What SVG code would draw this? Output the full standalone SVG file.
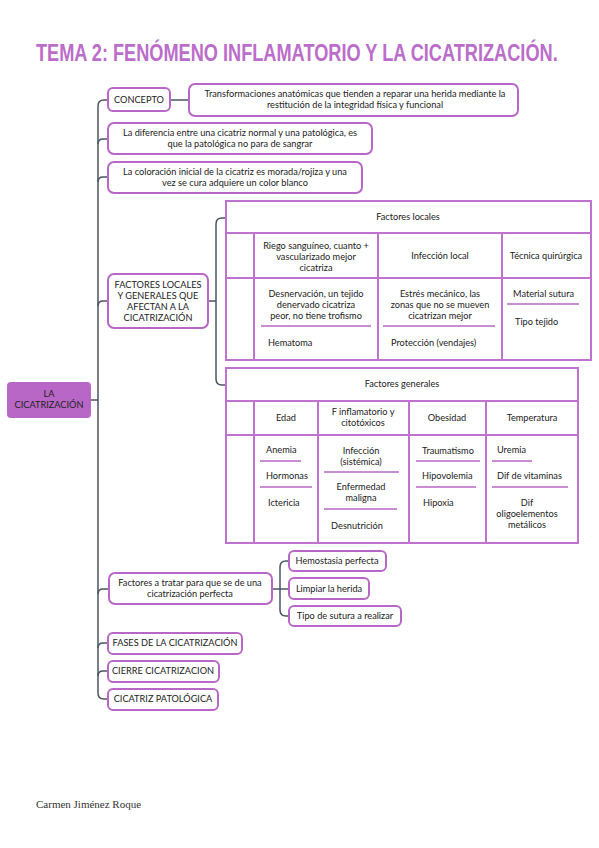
<svg xmlns="http://www.w3.org/2000/svg" width="599" height="848" viewBox="0 0 599 848">
<style>
.box{fill:#fff;stroke:#b867c6;stroke-width:2}
.root{fill:#b867c6;stroke:none}
.tbl{fill:none;stroke:#c072d0;stroke-width:2}
.sep{stroke:#b867c6;stroke-width:1.6}
.con{fill:none;stroke:#4a5560;stroke-width:1.5}
text{font-family:Lato,"Noto Sans","Liberation Sans",sans-serif;font-size:9.2px;fill:#222}
.c{text-anchor:middle}
.title{font-family:"Liberation Sans",Arial,sans-serif;font-weight:bold;font-size:23px;fill:#bb6dca}
text.author{font-family:"Liberation Serif","Times New Roman",serif;font-size:11px;fill:#333}
</style>
<text class="title" transform="translate(36,61) scale(0.79,1)">TEMA 2: FENÓMENO INFLAMATORIO Y LA CICATRIZACIÓN.</text>

<g id="connectors">
<line class="con" x1="91" y1="400" x2="98" y2="400"/>
<line class="con" x1="98" y1="106" x2="98" y2="693"/>
<path class="con" d="M98,106 Q98,100 104,100 L108,100"/>
<path class="con" d="M98,693 Q98,699 104,699 L108,699"/>
<path class="con" d="M98,144 Q98,139 103,139 L108,139"/>
<path class="con" d="M98,182 Q98,177 103,177 L108,177"/>
<path class="con" d="M98,306 Q98,301 103,301 L108,301"/>
<path class="con" d="M98,594 Q98,589 103,589 L108,589"/>
<path class="con" d="M98,648 Q98,643 103,643 L108,643"/>
<path class="con" d="M98,676 Q98,671 103,671 L108,671"/>
<line class="con" x1="170" y1="100" x2="189" y2="100"/>
<line class="con" x1="208" y1="301" x2="216" y2="301"/>
<line class="con" x1="216" y1="224" x2="216" y2="379"/>
<path class="con" d="M216,224 Q216,218 222,218 L226,218"/>
<path class="con" d="M216,379 Q216,385 222,385 L226,385"/>
<line class="con" x1="272" y1="589" x2="289" y2="589"/>
<line class="con" x1="280" y1="567" x2="280" y2="610"/>
<path class="con" d="M280,567 Q280,561 286,561 L289,561"/>
<path class="con" d="M280,610 Q280,616 286,616 L289,616"/>
</g>

<g id="root">
<rect class="root" x="7" y="382" width="84" height="36" rx="4"/>
<text class="c" x="49" y="397">LA</text>
<text class="c" x="49" y="408">CICATRIZACIÓN</text>
</g>

<g id="concepto">
<rect class="box" x="108" y="88" width="62" height="23" rx="5"/>
<text class="c" x="139" y="103">CONCEPTO</text>
</g>

<g id="definicion">
<rect class="box" x="189" y="84" width="329" height="32" rx="6"/>
<text class="c" x="355" y="97">Transformaciones anatómicas que tienden a reparar una herida mediante la</text>
<text class="c" x="355" y="108">restitución de la integridad física y funcional</text>
</g>

<g id="diferencia">
<rect class="box" x="108" y="123" width="264" height="31" rx="6"/>
<text class="c" x="240" y="136">La diferencia entre una cicatriz normal y una patológica, es</text>
<text class="c" x="240" y="147">que la patológica no para de sangrar</text>
</g>

<g id="coloracion">
<rect class="box" x="108" y="162" width="254" height="31" rx="6"/>
<text class="c" x="235" y="175">La coloración inicial de la cicatriz es morada/rojiza y una</text>
<text class="c" x="235" y="186">vez se cura adquiere un color blanco</text>
</g>

<g id="factores">
<rect class="box" x="108" y="274" width="100" height="54" rx="6"/>
<text class="c" x="158" y="288">FACTORES LOCALES</text>
<text class="c" x="158" y="299">Y GENERALES QUE</text>
<text class="c" x="158" y="310">AFECTAN A LA</text>
<text class="c" x="158" y="321">CICATRIZACIÓN</text>
</g>

<g id="factores-locales">
<rect class="tbl" x="226" y="201" width="365" height="159"/>
<line class="tbl" x1="226" y1="233" x2="591" y2="233"/>
<line class="tbl" x1="226" y1="278" x2="591" y2="278"/>
<line class="tbl" x1="254" y1="233" x2="254" y2="360"/>
<line class="tbl" x1="378" y1="233" x2="378" y2="360"/>
<line class="tbl" x1="502" y1="233" x2="502" y2="360"/>
<text class="c" x="408" y="220">Factores locales</text>
<text class="c" x="316" y="249">Riego sanguíneo, cuanto +</text>
<text class="c" x="316" y="260">vascularizado mejor</text>
<text class="c" x="316" y="271">cicatriza</text>
<text class="c" x="440" y="259">Infección local</text>
<text class="c" x="546" y="259">Técnica quirúrgica</text>
<text class="c" x="316" y="297">Desnervación, un tejido</text>
<text class="c" x="316" y="308">denervado cicatriza</text>
<text class="c" x="316" y="319">peor, no tiene trofismo</text>
<line class="sep" x1="261" y1="326" x2="371" y2="326"/>
<text x="268" y="346">Hematoma</text>
<text class="c" x="440" y="297">Estrés mecánico, las</text>
<text class="c" x="440" y="308">zonas que no se mueven</text>
<text class="c" x="440" y="319">cicatrizan mejor</text>
<line class="sep" x1="383" y1="326" x2="495" y2="326"/>
<text x="391" y="346">Protección (vendajes)</text>
<text x="513" y="297">Material sutura</text>
<line class="sep" x1="507" y1="304" x2="579" y2="304"/>
<text x="515" y="325">Tipo tejido</text>
</g>

<g id="factores-generales">
<rect class="tbl" x="226" y="368" width="352" height="175"/>
<line class="tbl" x1="226" y1="401" x2="578" y2="401"/>
<line class="tbl" x1="226" y1="435" x2="578" y2="435"/>
<line class="tbl" x1="254" y1="401" x2="254" y2="543"/>
<line class="tbl" x1="318" y1="401" x2="318" y2="543"/>
<line class="tbl" x1="409" y1="401" x2="409" y2="543"/>
<line class="tbl" x1="486" y1="401" x2="486" y2="543"/>
<text class="c" x="402" y="387">Factores generales</text>
<text class="c" x="286" y="421">Edad</text>
<text class="c" x="363" y="415">F inflamatorio y</text>
<text class="c" x="363" y="426">citotóxicos</text>
<text class="c" x="447" y="421">Obesidad</text>
<text class="c" x="532" y="421">Temperatura</text>
<text x="266" y="453">Anemia</text>
<line class="sep" x1="260" y1="461" x2="301" y2="461"/>
<text x="266" y="479">Hormonas</text>
<line class="sep" x1="260" y1="487" x2="312" y2="487"/>
<text x="268" y="506">Ictericia</text>
<text class="c" x="361" y="454">Infección</text>
<text class="c" x="361" y="465">(sistémica)</text>
<line class="sep" x1="324" y1="472" x2="399" y2="472"/>
<text class="c" x="361" y="490">Enfermedad</text>
<text class="c" x="361" y="501">maligna</text>
<line class="sep" x1="324" y1="509" x2="397" y2="509"/>
<text class="c" x="357" y="529">Desnutrición</text>
<text x="422" y="454">Traumatismo</text>
<line class="sep" x1="416" y1="461" x2="480" y2="461"/>
<text x="422" y="479">Hipovolemia</text>
<line class="sep" x1="416" y1="487" x2="476" y2="487"/>
<text x="423" y="506">Hipoxia</text>
<text x="497" y="453">Uremia</text>
<line class="sep" x1="492" y1="461" x2="532" y2="461"/>
<text x="497" y="479">Dif de vitaminas</text>
<line class="sep" x1="492" y1="487" x2="568" y2="487"/>
<text class="c" x="527" y="506">Dif</text>
<text class="c" x="527" y="517">oligoelementos</text>
<text class="c" x="527" y="528">metálicos</text>
</g>

<g id="tratar">
<rect class="box" x="109" y="573" width="163" height="31" rx="6"/>
<text class="c" x="190" y="586">Factores a tratar para que se de una</text>
<text class="c" x="190" y="597">cicatrización perfecta</text>
</g>
<g id="hemostasia">
<rect class="box" x="289" y="551" width="97" height="20" rx="5"/>
<text class="c" x="337" y="564">Hemostasia perfecta</text>
</g>
<g id="limpiar">
<rect class="box" x="289" y="578" width="80" height="21" rx="5"/>
<text class="c" x="329" y="592">Limpiar la herida</text>
</g>
<g id="sutura">
<rect class="box" x="289" y="606" width="112" height="20" rx="5"/>
<text class="c" x="345" y="619">Tipo de sutura a realizar</text>
</g>

<g id="fases">
<rect class="box" x="108" y="633" width="134" height="21" rx="5"/>
<text class="c" x="175" y="646">FASES DE LA CICATRIZACIÓN</text>
</g>
<g id="cierre">
<rect class="box" x="108" y="661" width="111" height="21" rx="5"/>
<text class="c" x="163" y="674">CIERRE CICATRIZACION</text>
</g>
<g id="patologica">
<rect class="box" x="108" y="689" width="110" height="21" rx="5"/>
<text class="c" x="163" y="702">CICATRIZ PATOLÓGICA</text>
</g>

<text class="author" x="36" y="808">Carmen Jiménez Roque</text>
</svg>
